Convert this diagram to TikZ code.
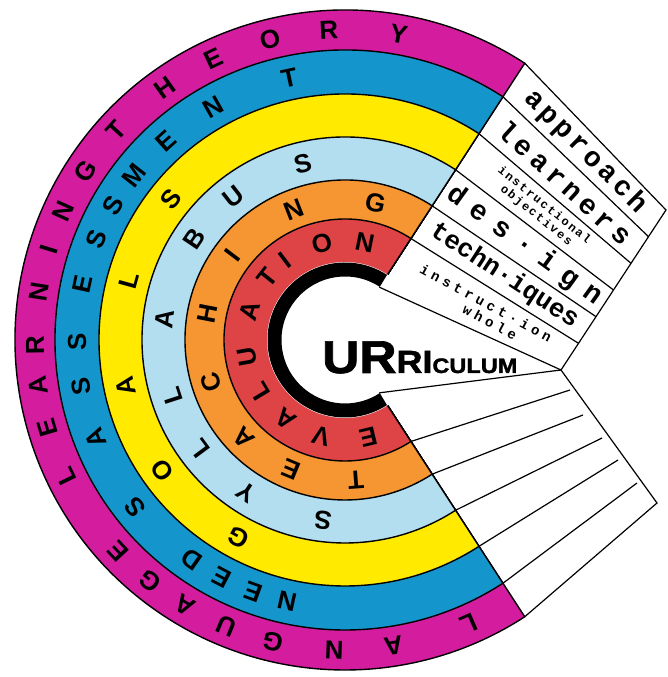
\documentclass[tikz,border=0pt]{standalone}
\usepackage{fontspec}
\setmainfont{Liberation Sans}
\newfontfamily\stripfont{Liberation Mono}
\usetikzlibrary{calc}
\definecolor{cMag}{RGB}{212,28,158}
\definecolor{cBlue}{RGB}{20,150,205}
\definecolor{cYel}{RGB}{255,234,0}
\definecolor{cLbl}{RGB}{178,222,240}
\definecolor{cOra}{RGB}{245,150,50}
\definecolor{cRed}{RGB}{222,68,70}
\begin{document}
\begin{tikzpicture}[x=1pt,y=1pt,
  ringband/.style={draw=black, line width=1.4pt},
  rl/.style={font=\fontsize{26}{26}\selectfont\bfseries, inner sep=0pt},
  stripline/.style={draw=black, line width=1.2pt},
  bigtxt/.style={font=\fontsize{28}{28}\selectfont\stripfont\bfseries, inner sep=0pt},
  smalltxt/.style={font=\fontsize{12}{13}\selectfont\stripfont\bfseries, inner sep=0pt, align=center},
]
\useasboundingbox (0,0) rectangle (667,677);
\coordinate (O) at (345,337);
% rings
\foreach \R/\c in {330/cMag,290/cBlue,246/cYel,203/cLbl,160/cOra,121/cRed}{
  \filldraw[ringband, fill=\c] (O) -- ($(O)+(57:\R)$) arc[start angle=57, end angle=303, radius=\R] -- cycle;
}
\fill[white] (O) circle (78);
\draw[line width=14pt, black] ($(O)+(57:70.5)$) arc[start angle=57, end angle=303, radius=70.5];
% upper strip box
\foreach \R [count=\i from 0] in {330,290,246,203,160,121,63}{
  \coordinate (u\i) at ($(O)+(57:\R)$);
  \coordinate (l\i) at ($(O)+(-57:\R)$);
}
\coordinate (p0) at (666,467);
\coordinate (p6) at (561,307);
\foreach \k in {1,...,5}{ \coordinate (p\k) at ($(p0)!\k/6!(p6)$); }
\draw[stripline] (u0) -- (p0) -- (p6) -- (u6);
\foreach \k in {1,...,5}{ \draw[stripline] (u\k) -- (p\k); }
% lower strip box
\coordinate (q0) at (561,307);
\coordinate (q1) at (570,287);
\coordinate (q2) at (583,262);
\coordinate (q3) at (602,239);
\coordinate (q4) at (618,217);
\coordinate (q5) at (637,194);
\coordinate (q6) at (657,174);
\draw[stripline] (l6) -- (q0) -- (q6) -- (l0);
\foreach \k/\j in {1/5,2/4,3/3,4/2,5/1}{ \draw[stripline] (l\j) -- (q\k); }
% strip texts
\path ($(u0)!0.5!(u1)$) -- ($(p0)!0.5!(p1)$) node[pos=0.5, sloped, bigtxt] (s1) {\addfontfeature{LetterSpace=14}approach};
\path ($(u1)!0.5!(u2)$) -- ($(p1)!0.5!(p2)$) node[pos=0.5, sloped, bigtxt] (s2) {\addfontfeature{LetterSpace=18}learners};
\path ($(u2)!0.5!(u3)$) -- ($(p2)!0.5!(p3)$) node[pos=0.47, sloped, smalltxt] (s3) {\addfontfeature{LetterSpace=15}instructional\\\addfontfeature{LetterSpace=15}objectives};
\path ($(u3)!0.5!(u4)$) -- ($(p3)!0.5!(p4)$) node[pos=0.5, sloped, bigtxt] (s4) {\addfontfeature{LetterSpace=40}des·ign};
\path ($(u4)!0.5!(u5)$) -- ($(p4)!0.5!(p5)$) node[pos=0.5, sloped, bigtxt, font=\fontsize{26}{26}\selectfont\stripfont\bfseries] (s5) {techn·iques};
\path ($(u5)!0.5!(u6)$) -- ($(p5)!0.5!(p6)$) node[pos=0.5, sloped, smalltxt, font=\fontsize{14}{15}\selectfont\stripfont\bfseries] (s6) {\addfontfeature{LetterSpace=30}instruct·ion\\\addfontfeature{LetterSpace=30}\ \ whole};
% centre text
\node[anchor=base west, inner sep=0pt] (cur) at (322,304) {\scalebox{1.12}[1]{\bfseries\addfontfeature{FakeBold=1.5}{\fontsize{46}{46}\selectfont UR}{\fontsize{32}{32}\selectfont RI}{\fontsize{21}{21}\selectfont CULUM}}};
% ring letters
\foreach \a/\t [count=\i] in {293.5/L,279/A,268/N,256.5/G,247.5/U,239/A,231/G,223/E,206/L,196.5/E,188.5/A,181/R,171/N,163/I,155.5/N,147/G,137.5/T,125.5/H,115/E,104/O,93/R,80/Y}
  \node[rl, rotate=\a-90] (m\i) at ($(O)+(\a:310)$) {\t};
\foreach \a/\t [count=\i] in {257.5/N,250/E,242.5/E,235/D,218.5/S,201.5/A,190/S,180.5/S,168/E,158/S,150/S,142/M,132/E,119.5/N,102/T}
  \node[rl, rotate=\a-90] (b\i) at ($(O)+(\a:268)$) {\t};
\foreach \a/\t [count=\i] in {241.5/G,215.5/O,192/A,164.5/L,141/S}
  \node[rl, rotate=\a-90] (y\i) at ($(O)+(\a:224.5)$) {\t};
\foreach \a/\t [count=\i] in {263/S,237/Y,216.5/L,198/L,173.5/A,146/B,128/U,103.5/S}
  \node[rl, rotate=\a-90] (c\i) at ($(O)+(\a:181.5)$) {\t};
\foreach \a/\t [count=\i] in {274.5/T,247.5/E,224/A,197.5/C,169/H,143/I,111.5/N,77.5/G}
  \node[rl, rotate=\a-90] (o\i) at ($(O)+(\a:140.5)$) {\t};
\foreach \a/\t [count=\i] in {283.5/E,256/V,233/A,211/L,190/U,163/A,141.5/T,127/I,103.5/O,78.5/N}
  \node[rl, rotate=\a-90] (r\i) at ($(O)+(\a:99.5)$) {\t};
\end{tikzpicture}
\end{document}
